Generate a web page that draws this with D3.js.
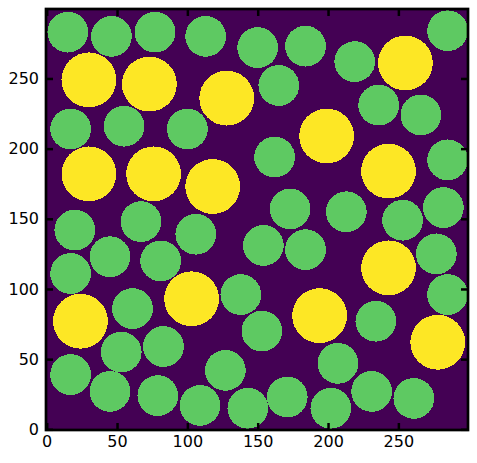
<!DOCTYPE html>
<html>
<head>
<meta charset="utf-8">
<script src="https://cdn.jsdelivr.net/npm/d3@7"></script>
<style>
  body { margin: 0; background: #fff; }
  text { font-family: "DejaVu Sans", sans-serif; }
</style>
</head>
<body>
<div id="viz"></div>
<script>
// small circles (label 1) - centre x, centre y in image pixels
var greenX = [15, 46, 77, 113, 150, 184, 219, 285, 165, 236, 266, 17, 55, 100, 162, 285,
              173, 213, 253, 282, 20, 67, 106, 154, 184, 277, 45, 81, 17, 61, 138, 285,
              234, 53, 83, 153, 17, 45, 79, 127, 109, 143, 171, 207, 202, 231, 261];
var greenY = [283, 280, 283, 280, 272, 273, 262, 284, 245, 231, 224, 214, 216, 214, 194, 192,
              157, 155, 149, 158, 142, 148, 139, 131, 128, 125, 123, 120, 111, 86, 96, 96,
              77, 55, 59, 70, 39, 27, 24, 42, 17, 15, 23, 47, 15, 27, 22];
// big circles (label 2)
var yellowX = [255, 30, 73, 128, 199, 30, 76, 118, 243, 243, 24, 103, 194, 278];
var yellowY = [261, 249, 246, 236, 209, 182, 182, 173, 184, 115, 77, 93, 81, 62];
var greenR = 14.5, yellowR = 19.5;
var xTicks = [0, 50, 100, 150, 200, 250];
var yTicks = [0, 50, 100, 150, 200, 250];

var W = 477, H = 463;
var m = {left: 46, top: 9, right: 9, bottom: 33};
var w = W - m.left - m.right, h = H - m.top - m.bottom;

var x = d3.scaleLinear().domain([-0.5, 299.5]).range([0, w]);
var y = d3.scaleLinear().domain([-0.5, 299.5]).range([h, 0]);
var color = d3.scaleOrdinal().domain([0, 1, 2]).range(['#440154', '#5ec962', '#fde725']);

var circles = [];
greenX.forEach(function(d, i){ circles.push({x: d, y: greenY[i], r: greenR, k: 1}); });
yellowX.forEach(function(d, i){ circles.push({x: d, y: yellowY[i], r: yellowR, k: 2}); });

var svg = d3.select('#viz').append('svg')
    .attr('width', W)
    .attr('height', H);

var g = svg.append('g').attr('transform', 'translate(' + m.left + ',' + m.top + ')');

g.append('clipPath').attr('id', 'clip')
  .append('rect').attr('width', w).attr('height', h);

var plot = g.append('g').attr('clip-path', 'url(#clip)');
plot.append('rect')
    .attr('width', w)
    .attr('height', h)
    .attr('fill', color(0));

plot.selectAll('circle').data(circles)
  .enter().append('circle')
    .attr('cx', function(d){ return x(d.x); })
    .attr('cy', function(d){ return y(d.y); })
    .attr('r', function(d){ return x(d.r) - x(0); })
    .attr('fill', function(d){ return color(d.k); })
    .attr('shape-rendering', 'crispEdges');

function styleAxis(sel){
  sel.select('.domain').remove();
  sel.selectAll('.tick line').attr('stroke', '#000').attr('stroke-width', 2.5);
  sel.selectAll('.tick text').attr('fill', '#000').style('font-size', '16px');
}

g.append('g').attr('transform', 'translate(0,' + h + ')')
  .call(d3.axisBottom(x).tickValues(xTicks).tickSizeInner(-7).tickSizeOuter(0).tickPadding(6))
  .call(styleAxis);
g.append('g')
  .call(d3.axisLeft(y).tickValues(yTicks).tickSizeInner(-7).tickSizeOuter(0).tickPadding(7))
  .call(styleAxis);
g.append('g')
  .call(d3.axisTop(x).tickValues(xTicks).tickSizeInner(-7).tickSizeOuter(0).tickFormat(''))
  .call(styleAxis);
g.append('g').attr('transform', 'translate(' + w + ',0)')
  .call(d3.axisRight(y).tickValues(yTicks).tickSizeInner(-7).tickSizeOuter(0).tickFormat(''))
  .call(styleAxis);

g.append('rect')
    .attr('width', w)
    .attr('height', h)
    .attr('fill', 'none')
    .attr('stroke', '#000')
    .attr('stroke-width', 2.7);
</script>
</body>
</html>
